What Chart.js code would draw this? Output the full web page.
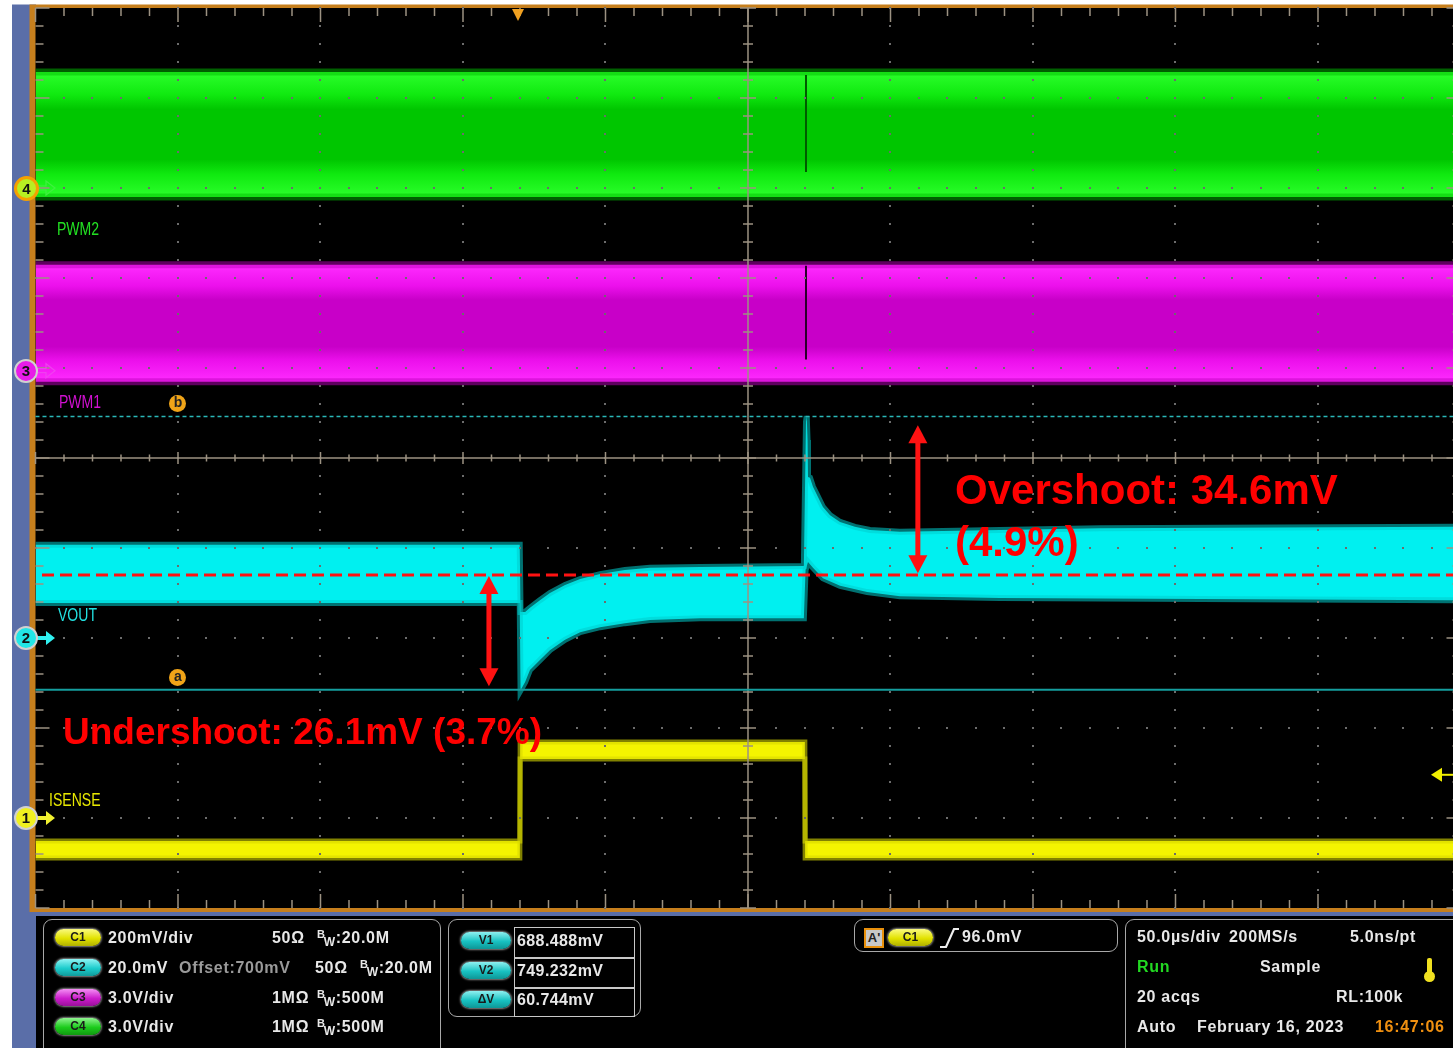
<!DOCTYPE html>
<html><head><meta charset="utf-8">
<script src="https://cdn.jsdelivr.net/npm/chart.js@4.4.1/dist/chart.umd.min.js"></script>
<style>
html,body{margin:0;padding:0;background:#fff;overflow:hidden;width:1453px;height:1048px;}
#wrap{position:relative;width:1453px;height:1048px;}
#c{position:absolute;left:0;top:0;}
.t{position:absolute;white-space:nowrap;font-family:"Liberation Sans",Arial,Helvetica,sans-serif;}
.p{font-weight:bold;font-size:16px;letter-spacing:0.7px;color:#e8e8e8;line-height:20px;}
.lab{font-size:18px;line-height:22px;transform:scaleX(0.78);transform-origin:0 50%;}
.ann{font-weight:bold;color:#ff0000;}
.box{position:absolute;box-sizing:border-box;border:1.5px solid #a8a8a8;border-radius:9px;}
.bd{position:absolute;height:17px;border-radius:9px;font:bold 12px "Liberation Sans",Arial,sans-serif;color:#1a1a1a;text-align:center;line-height:17px;box-shadow:0 0 2px 1px rgba(170,170,170,0.8);}
.mk{position:absolute;left:14px;width:20px;height:20px;border-radius:50%;border:2px solid #d0d0d0;font:bold 15px "Liberation Sans",Arial,sans-serif;line-height:20px;text-align:center;color:#111;}
.cl{position:absolute;width:17px;height:17px;border-radius:50%;background:#f0a418;color:#222;font:bold 14px "Liberation Sans",Arial,sans-serif;line-height:15px;text-align:center;}
.bw{position:absolute;}
.bw .b{font-size:11px;position:relative;top:-5px;}
.bw .w{font-size:12px;position:relative;top:3px;margin-left:-2px;}
</style></head>
<body>
<div id="wrap">
<canvas id="c" width="1453" height="1048"></canvas>

<!-- channel labels -->
<div class="t lab" style="left:57px;top:218px;color:#22e022">PWM2</div>
<div class="t lab" style="left:59px;top:391px;color:#d010d0">PWM1</div>
<div class="t lab" style="left:58px;top:604px;color:#22e0e0">VOUT</div>
<div class="t lab" style="left:49px;top:789px;color:#e8e800">ISENSE</div>

<!-- ground markers & cursor labels (positioned from scales) -->
<div class="mk" id="mk4" style="background:#b8ee22;border:3px solid #f5a000;width:19px;height:19px;line-height:19px">4</div>
<div class="mk" id="mk3" style="background:#e81ce8">3</div>
<div class="mk" id="mk2" style="background:#22e6e6">2</div>
<div class="mk" id="mk1" style="background:#f0f020">1</div>
<div class="cl" id="cla">a</div>
<div class="cl" id="clb">b</div>

<!-- annotations -->
<div class="t ann" style="left:955px;top:464px;font-size:42px;line-height:52px">Overshoot: 34.6mV</div>
<div class="t ann" style="left:955px;top:516px;font-size:42px;line-height:52px">(4.9%)</div>
<div class="t ann" style="left:63px;top:711px;font-size:37px;line-height:42px">Undershoot: 26.1mV (3.7%)</div>

<!-- bottom panel -->
<div class="box" style="left:43px;top:919px;width:398px;height:150px"></div>
<div class="box" style="left:448px;top:919px;width:193px;height:98px"></div>
<div class="box" style="left:854px;top:919px;width:264px;height:33px"></div>
<div class="box" style="left:1125px;top:919px;width:360px;height:150px"></div>

<div class="bd" style="left:55px;top:929px;width:46px;background:linear-gradient(#fafa80,#e2e200 55%,#b0b000)">C1</div>
<div class="bd" style="left:55px;top:959px;width:46px;background:linear-gradient(#8ff4f4,#1ccccc 55%,#109a9a)">C2</div>
<div class="bd" style="left:55px;top:989px;width:46px;background:linear-gradient(#f48ff4,#cc1ccc 55%,#9a109a)">C3</div>
<div class="bd" style="left:55px;top:1018px;width:46px;background:linear-gradient(#8ff48f,#1ccc1c 55%,#109a10)">C4</div>

<div class="t p" style="left:108px;top:928px">200mV/div</div>
<div class="t p" style="left:272px;top:928px">50Ω</div>
<div class="t p bw" style="left:317px;top:928px"><span class="b">B</span><span class="w">W</span>:20.0M</div>
<div class="t p" style="left:108px;top:958px">20.0mV</div>
<div class="t p" style="left:179px;top:958px;color:#9a9a9a">Offset:700mV</div>
<div class="t p" style="left:315px;top:958px">50Ω</div>
<div class="t p bw" style="left:360px;top:958px"><span class="b">B</span><span class="w">W</span>:20.0M</div>
<div class="t p" style="left:108px;top:988px">3.0V/div</div>
<div class="t p" style="left:272px;top:988px">1MΩ</div>
<div class="t p bw" style="left:317px;top:988px"><span class="b">B</span><span class="w">W</span>:500M</div>
<div class="t p" style="left:108px;top:1017px">3.0V/div</div>
<div class="t p" style="left:272px;top:1017px">1MΩ</div>
<div class="t p bw" style="left:317px;top:1017px"><span class="b">B</span><span class="w">W</span>:500M</div>

<div style="position:absolute;left:514px;top:927px;width:121px;height:90px;box-sizing:border-box;border:1.5px solid #c8c8c8"></div>
<div style="position:absolute;left:514px;top:957px;width:121px;height:1.5px;background:#c8c8c8"></div>
<div style="position:absolute;left:514px;top:987px;width:121px;height:1.5px;background:#c8c8c8"></div>
<div class="bd" style="left:461px;top:932px;width:50px;background:linear-gradient(#8ff0f0,#18c2c2 55%,#0e9696)">V1</div>
<div class="bd" style="left:461px;top:962px;width:50px;background:linear-gradient(#8ff0f0,#18c2c2 55%,#0e9696)">V2</div>
<div class="bd" style="left:461px;top:991px;width:50px;background:linear-gradient(#8ff0f0,#18c2c2 55%,#0e9696)">ΔV</div>
<div class="t p" style="left:517px;top:931px;letter-spacing:0.4px">688.488mV</div>
<div class="t p" style="left:517px;top:961px;letter-spacing:0.4px">749.232mV</div>
<div class="t p" style="left:517px;top:990px;letter-spacing:0.4px">60.744mV</div>

<div class="t" style="left:864px;top:928px;width:20px;height:20px;box-sizing:border-box;border:2px solid #e8900c;background:#c8c8c8;color:#222;font:bold 13px 'Liberation Sans',Arial;line-height:16px;text-align:center">A'</div>
<div class="bd" style="left:888px;top:929px;width:45px;background:linear-gradient(#fafa80,#e2e200 55%,#b0b000)">C1</div>
<svg style="position:absolute;left:938px;top:926px" width="22" height="24"><path d="M2 21 L8 21 L16 3 L21 3" stroke="#eeeeee" stroke-width="2.2" fill="none"/></svg>
<div class="t p" style="left:962px;top:927px">96.0mV</div>

<div class="t p" style="left:1137px;top:927px">50.0µs/div</div>
<div class="t p" style="left:1229px;top:927px">200MS/s</div>
<div class="t p" style="left:1350px;top:927px">5.0ns/pt</div>
<div class="t p" style="left:1137px;top:957px;color:#22d822">Run</div>
<div class="t p" style="left:1260px;top:957px">Sample</div>
<div style="position:absolute;left:1427px;top:958px;width:5px;height:17px;background:#f0e020;border-radius:2px"></div>
<div style="position:absolute;left:1424px;top:971px;width:11px;height:11px;background:#f0e020;border-radius:50%"></div>
<div class="t p" style="left:1137px;top:987px">20 acqs</div>
<div class="t p" style="left:1336px;top:987px">RL:100k</div>
<div class="t p" style="left:1137px;top:1017px">Auto</div>
<div class="t p" style="left:1197px;top:1017px">February 16, 2023</div>
<div class="t p" style="left:1375px;top:1017px;color:#f09010">16:47:06</div>
</div>

<script>
const W = 1453, H = 1048;

// ---- horizontal: 50 µs/div, time relative to centre (µs) ----
const T_LEFT = -250, T_RIGHT = 247.37, T_DIV = 50;

// ---- vertical set-up per channel: [units per div, offset, position (div)] ----
const C1_SCALE = 200, C1_OFFSET = 0,   C1_POS = -4;    // ISENSE, mV
const C2_SCALE = 20,  C2_OFFSET = 700, C2_POS = -2;    // VOUT, mV
const C3_SCALE = 3,   C3_OFFSET = 0,   C3_POS = 0.97;  // PWM1, V
const C4_SCALE = 3,   C4_OFFSET = 0,   C4_POS = 3;     // PWM2, V

// ---- CH4 PWM2 envelope (V) ----
const pwm2T      = [-250, 247.37];
const pwm2Max    = [3.87, 3.87];
const pwm2Min    = [-0.30, -0.30];
const pwm2GlitchT = [20.35, 20.35];
const pwm2GlitchV = [3.77, 0.53];

// ---- CH3 PWM1 envelope (V) ----
const pwm1T      = [-250, 247.37];
const pwm1Max    = [3.53, 3.53];
const pwm1Min    = [-0.37, -0.37];
const pwm1GlitchT = [20.35, 20.35];
const pwm1GlitchV = [3.50, 0.37];

// ---- CH2 VOUT envelope (mV) ----
const voutMaxT = [-250, -80.1, -79.8, -78.2, -76.5, -73.0, -69.5, -64.2, -58.9, -51.9, -43.2, -34.4, -16.8, 19.6, 20.35, 20.6, 20.9, 21.05, 21.75, 22.8, 24.6, 26.3, 28.8, 32.3, 37.5, 42.8, 53.3, 88.4, 123.5, 247.37];
const voutMax  = [720.7, 720.7, 705.8, 705.8, 706.7, 708.4, 710.0, 711.8, 713.1, 714.2, 715.1, 715.6, 715.8, 716.0, 748.0, 749.3, 744.0, 735.8, 735.6, 733.6, 731.3, 729.1, 727.3, 725.8, 724.7, 724.0, 723.6, 724.0, 724.4, 724.7];
const voutMinT = [-250, -80.1, -79.8, -78.2, -76.5, -73.0, -69.5, -64.2, -58.9, -51.9, -43.2, -34.4, -16.8, 19.6, 20.2, 21.05, 22.8, 26.3, 32.3, 41.8, 53.3, 88.4, 247.37];
const voutMin  = [707.8, 707.8, 688.4, 690.2, 692.9, 695.1, 697.3, 699.6, 701.3, 702.4, 703.3, 704.0, 704.4, 704.4, 715.1, 716.9, 715.6, 713.3, 711.6, 710.2, 709.3, 708.9, 708.4];

// ---- CH1 ISENSE envelope (mV) ----
const isenseT   = [-250, -80.05, -79.95, 19.95, 20.05, 247.37];
const isenseMax = [-51, -51, 169, 169, -51, -51];
const isenseMin = [-89, -89, 131, 131, -89, -89];

// ---- cursors, trigger and annotations ----
const CURSOR_A = 688.488, CURSOR_B = 749.232;   // mV on CH2
const NOMINAL = 714.0;                          // mV, red dashed reference
const TRIG_T = -80.7, TRIG_LEVEL = 96.0;        // µs, mV on CH1
const ARROW_T  = [59.6, -90.9];
const ARROW_LO = [714.4, 689.3];
const ARROW_HI = [747.3, 713.8];
const CURSOR_LABEL_T = -200;

const pts = (xs, ys) => xs.map((x, i) => ({x, y: ys[i]}));
function rng(scale, offset, pos) { const c = offset - pos * scale; return {min: c - 5 * scale, max: c + 5 * scale}; }

function vGrad(axis, vTop, vBot, stops) {
  return (ctx) => {
    const ch = ctx.chart, s = ch.scales[axis];
    if (!s || !ch.chartArea) return stops[2][1];
    const g = ch.ctx.createLinearGradient(0, s.getPixelForValue(vTop), 0, s.getPixelForValue(vBot));
    stops.forEach(([p, c]) => g.addColorStop(p, c));
    return g;
  };
}
function band(axis, tLo, lo, tHi, hi, fill, edge, edgeW) {
  return [
    {yAxisID: axis, data: pts(tLo, lo), borderColor: edge, borderWidth: edgeW, pointRadius: 0, fill: false, order: 10},
    {yAxisID: axis, data: pts(tHi, hi), borderColor: edge, borderWidth: edgeW, pointRadius: 0, fill: '-1', backgroundColor: fill, order: 10}
  ];
}
function line(axis, xs, ys, color, w) {
  return {yAxisID: axis, data: pts(xs, ys), borderColor: color, borderWidth: w, pointRadius: 0, fill: false, order: 1};
}

const datasets = [
  ...band('yC4', pwm2T, pwm2Min, pwm2T, pwm2Max,
    vGrad('yC4', pwm2Max[0], pwm2Min[0], [[0,'#2cff2c'],[0.18,'#10ea10'],[0.3,'#00c600'],[0.7,'#00c600'],[0.82,'#10ea10'],[1,'#2cff2c']]),
    'rgba(0,190,0,0.5)', 7),
  line('yC4', pwm2GlitchT, pwm2GlitchV, '#005a00', 2),
  ...band('yC3', pwm1T, pwm1Min, pwm1T, pwm1Max,
    vGrad('yC3', pwm1Max[0], pwm1Min[0], [[0,'#ff2cff'],[0.18,'#ec10ec'],[0.3,'#c800c8'],[0.7,'#c800c8'],[0.82,'#ec10ec'],[1,'#ff2cff']]),
    'rgba(190,0,190,0.5)', 7),
  line('yC3', pwm1GlitchT, pwm1GlitchV, '#2a002a', 2),
  ...band('yC2', voutMinT, voutMin, voutMaxT, voutMax, '#00f0f0', 'rgba(0,205,205,0.55)', 6),
  ...band('yC1', isenseT, isenseMin, isenseT, isenseMax, '#f4f400', 'rgba(215,215,0,0.6)', 5),
];

function ln(c, x1, y1, x2, y2) { c.beginPath(); c.moveTo(x1, y1); c.lineTo(x2, y2); c.stroke(); }

const scopePlugin = {
  id: 'scope',
  beforeDraw(chart) {
    const c = chart.ctx, a = chart.chartArea;
    c.save();
    c.fillStyle = '#ffffff'; c.fillRect(0, 0, W, H);
    c.fillStyle = '#5a6ea8'; c.fillRect(12, 4.5, 24, H - 4.5); c.fillRect(12, 911, W, 6);
    c.fillStyle = '#000'; c.fillRect(36, 916, W, H - 916);
    c.fillStyle = '#c67f1d'; c.fillRect(29.5, 4.5, W, a.bottom + 4 - 4.5);
    c.fillStyle = '#000'; c.fillRect(a.left, a.top, a.right - a.left, a.bottom - a.top);
    c.restore();
  },
  afterDatasetsDraw(chart) {
    const c = chart.ctx, a = chart.chartArea;
    const xs = chart.scales.x, yd = chart.scales.yDiv, y2 = chart.scales.yC2, y1 = chart.scales.yC1;
    const X = t => xs.getPixelForValue(t), Y = d => yd.getPixelForValue(d);
    c.save();
    // graticule dots
    c.fillStyle = '#6c6c6c';
    for (let k = -4; k <= 4; k++) {
      if (k === 0) continue;
      const x = Math.round(X(k * T_DIV));
      for (let j = -25; j <= 25; j++) c.fillRect(x - 1, Math.round(Y(j / 5)) - 1, 2, 2);
    }
    for (let m = -4; m <= 4; m++) {
      if (m === 0) continue;
      const y = Math.round(Y(m));
      for (let j = -25; j <= 25; j++) c.fillRect(Math.round(X(j * 10)) - 1, y - 1, 2, 2);
    }
    // centre cross + ticks, edge ticks
    c.strokeStyle = '#9c9282'; c.lineWidth = 1.5;
    ln(c, X(0), a.top, X(0), a.bottom);
    ln(c, a.left, Y(0), a.right, Y(0));
    for (let j = -25; j <= 25; j++) {
      const y = Y(j / 5), maj = j % 5 === 0;
      ln(c, X(0) - (maj ? 8 : 5), y, X(0) + (maj ? 8 : 5), y);
      ln(c, a.left, y, a.left + (maj ? 14 : 8), y);
      ln(c, X(250), y, X(250) - (maj ? 14 : 8), y);
      const x = X(j * 10);
      ln(c, x, Y(0) - (maj ? 6 : 3.5), x, Y(0) + (maj ? 6 : 3.5));
      ln(c, x, a.top, x, a.top + (maj ? 14 : 8));
      ln(c, x, a.bottom, x, a.bottom - (maj ? 14 : 8));
    }
    // cursors
    c.strokeStyle = '#159e9e'; c.lineWidth = 2;
    ln(c, a.left, y2.getPixelForValue(CURSOR_A), a.right, y2.getPixelForValue(CURSOR_A));
    c.strokeStyle = '#2ab8b8'; c.lineWidth = 1.5; c.setLineDash([4, 3]);
    ln(c, a.left, y2.getPixelForValue(CURSOR_B), a.right, y2.getPixelForValue(CURSOR_B));
    // red nominal dashed line
    c.strokeStyle = '#ff1212'; c.lineWidth = 3; c.setLineDash([12, 6]);
    ln(c, 42, y2.getPixelForValue(NOMINAL), a.right, y2.getPixelForValue(NOMINAL));
    c.setLineDash([]);
    // red double arrows
    c.fillStyle = '#ff1212'; c.strokeStyle = '#ff1212'; c.lineWidth = 5;
    ARROW_T.forEach((t, i) => {
      const x = X(t), yt = y2.getPixelForValue(ARROW_HI[i]), yb = y2.getPixelForValue(ARROW_LO[i]);
      const hh = 18, hw = 9.5;
      ln(c, x, yt + hh - 2, x, yb - hh + 2);
      c.beginPath(); c.moveTo(x, yt); c.lineTo(x - hw, yt + hh); c.lineTo(x + hw, yt + hh); c.closePath(); c.fill();
      c.beginPath(); c.moveTo(x, yb); c.lineTo(x - hw, yb - hh); c.lineTo(x + hw, yb - hh); c.closePath(); c.fill();
    });
    // trigger position marker
    c.fillStyle = '#f0a020';
    const tx = X(TRIG_T);
    c.beginPath(); c.moveTo(tx - 6, a.top + 1); c.lineTo(tx + 6, a.top + 1); c.lineTo(tx, a.top + 13); c.closePath(); c.fill();
    // trigger level marker
    const ty = y1.getPixelForValue(TRIG_LEVEL);
    c.fillStyle = '#f2f000'; c.strokeStyle = '#f2f000'; c.lineWidth = 2;
    c.beginPath(); c.moveTo(1431, ty); c.lineTo(1442, ty - 7); c.lineTo(1442, ty + 7); c.closePath(); c.fill();
    ln(c, 1442, ty, 1453, ty);
    // ground marker arrows
    const gm = [['yC4', C4_OFFSET, '#40f040', true], ['yC3', C3_OFFSET, '#f040f0', true], ['yC2', C2_OFFSET, '#30f0f0', false], ['yC1', C1_OFFSET, '#f0f030', false]];
    gm.forEach(([ax, v, col, hollow]) => {
      const y = chart.scales[ax].getPixelForValue(v);
      c.lineWidth = 1.2; c.strokeStyle = col; c.fillStyle = col;
      c.beginPath();
      c.moveTo(37, y - 2); c.lineTo(46, y - 2); c.lineTo(46, y - 7); c.lineTo(55, y); c.lineTo(46, y + 7); c.lineTo(46, y + 2); c.lineTo(37, y + 2); c.closePath();
      if (hollow) c.stroke(); else c.fill();
    });
    c.restore();
  }
};

const r1 = rng(C1_SCALE, C1_OFFSET, C1_POS), r2 = rng(C2_SCALE, C2_OFFSET, C2_POS);
const r3 = rng(C3_SCALE, C3_OFFSET, C3_POS), r4 = rng(C4_SCALE, C4_OFFSET, C4_POS);

const chart = new Chart(document.getElementById('c'), {
  type: 'line',
  data: {datasets},
  options: {
    responsive: false, animation: false, devicePixelRatio: 1,
    layout: {padding: {left: 35.5, top: 8, right: 0, bottom: 140}},
    plugins: {legend: {display: false}, tooltip: {enabled: false}},
    elements: {line: {tension: 0}},
    scales: {
      x: {type: 'linear', min: T_LEFT, max: T_RIGHT, display: false},
      yDiv: {type: 'linear', min: -5, max: 5, display: false},
      yC1: {type: 'linear', min: r1.min, max: r1.max, display: false},
      yC2: {type: 'linear', min: r2.min, max: r2.max, display: false},
      yC3: {type: 'linear', min: r3.min, max: r3.max, display: false},
      yC4: {type: 'linear', min: r4.min, max: r4.max, display: false}
    }
  },
  plugins: [scopePlugin]
});

// place HTML markers from scales
function place(id, axis, val, dx, dy) {
  const el = document.getElementById(id);
  el.style.top = (chart.scales[axis].getPixelForValue(val) + dy) + 'px';
  if (dx !== null) el.style.left = dx + 'px';
}
place('mk4', 'yC4', C4_OFFSET, null, -12.5);
place('mk3', 'yC3', C3_OFFSET, null, -12);
place('mk2', 'yC2', C2_OFFSET, null, -12);
place('mk1', 'yC1', C1_OFFSET, null, -12);
const lx = chart.scales.x.getPixelForValue(CURSOR_LABEL_T) - 8.5;
place('cla', 'yC2', CURSOR_A, lx, -21);
place('clb', 'yC2', CURSOR_B, lx, -21);
</script>
</body></html>
